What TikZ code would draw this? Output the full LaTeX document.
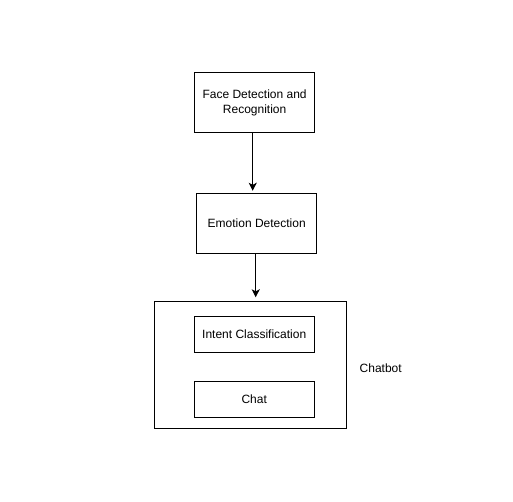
\documentclass[tikz,border=0pt]{standalone}
\usepackage{fontspec}
\setmainfont{Liberation Sans}
\usepackage{tikz}
\usetikzlibrary{arrows.meta}

\tikzset{
  box/.style={draw, line width=1pt, minimum width=120pt, align=center,
              font=\fontsize{12}{15}\selectfont},
  arr/.style={line width=1pt, -{Stealth[length=8pt,width=8pt,inset=2pt]}}
}

\begin{document}
\begin{tikzpicture}[x=1pt,y=-1pt]
\useasboundingbox (0,0) rectangle (513,502);

\node[box, minimum height=60pt] (face) at (254.6,103) {Face Detection and\\Recognition} ;
\node[box, minimum height=60pt] (emotion) at (256.7,223.3) {Emotion Detection} ;

\node[draw, line width=1pt, minimum width=192pt, minimum height=127pt] (chatbot) at (250.5,365.3) {} ;
\node[box, minimum height=36pt] (intent) at (254.2,334) {Intent Classification} ;
\node[box, minimum height=36pt] (chat) at (254.2,399.2) {Chat} ;
\node[font=\fontsize{12}{15}\selectfont] (label) at (380.7,368) {Chatbot} ;

\draw[arr, shorten >=2pt] (face.south -| 252.7,0) -- (emotion.north -| 252.7,0) ;
\draw[arr, shorten >=4pt] (emotion.south -| 255.7,0) -- (chatbot.north -| 255.7,0) ;

\end{tikzpicture}
\end{document}
